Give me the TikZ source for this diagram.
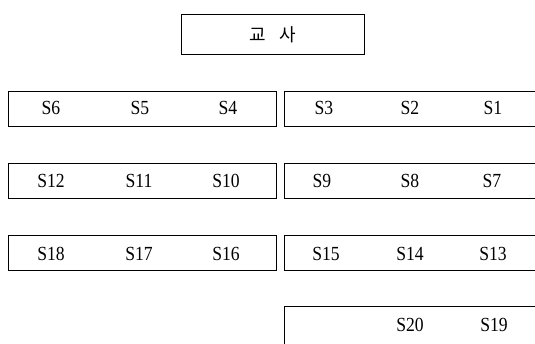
\documentclass[tikz,border=0pt]{standalone}
\usepackage{fontspec}
\setmainfont{Liberation Serif}
\newfontfamily\cjk{Noto Sans CJK KR}
\begin{document}
\begin{tikzpicture}[x=1pt,y=-1pt,
  seat/.style={font=\fontsize{20}{22}\selectfont, inner sep=0pt, anchor=center, xscale=0.88},
  frame/.style={draw=black, line width=0.9pt}]
\useasboundingbox (0,0) rectangle (535,343);
% teacher
\node[frame, minimum width=183pt, minimum height=40pt, inner sep=0pt, anchor=north west,
  font=\cjk\fontsize{18}{20}\selectfont] (teacher) at (181,14) {교\hspace{0.75em}사};
% row boxes (left)
\draw[frame] (8,91) rectangle (276,126) coordinate (L1);
\draw[frame] (8,163) rectangle (276,198) coordinate (L2);
\draw[frame] (8,235) rectangle (276,270) coordinate (L3);
% row boxes (right, open at right edge)
\draw[frame] (540,91) -- (284,91) -- (284,126) -- (540,126);
\draw[frame] (540,163) -- (284,163) -- (284,198) -- (540,198);
\draw[frame] (540,235) -- (284,235) -- (284,270) -- (540,270);
\draw[frame] (540,306) -- (284,306) -- (284,348);
% seats
\node[seat] (s6) at (51,108) {S6};
\node[seat] (s5) at (140,108) {S5};
\node[seat] (s4) at (228,108) {S4};
\node[seat] (s3) at (324,108) {S3};
\node[seat] (s2) at (410,108) {S2};
\node[seat] (s1) at (493,108) {S1};
\node[seat] (s12) at (51,181) {S12};
\node[seat] (s11) at (139,181) {S11};
\node[seat] (s10) at (226,181) {S10};
\node[seat] (s9) at (322,181) {S9};
\node[seat] (s8) at (410,181) {S8};
\node[seat] (s7) at (492,181) {S7};
\node[seat] (s18) at (51,254) {S18};
\node[seat] (s17) at (139,254) {S17};
\node[seat] (s16) at (226,254) {S16};
\node[seat] (s15) at (326,254) {S15};
\node[seat] (s14) at (410,254) {S14};
\node[seat] (s13) at (493,254) {S13};
\node[seat] (s20) at (410,325) {S20};
\node[seat] (s19) at (494,325) {S19};
\end{tikzpicture}
\end{document}
